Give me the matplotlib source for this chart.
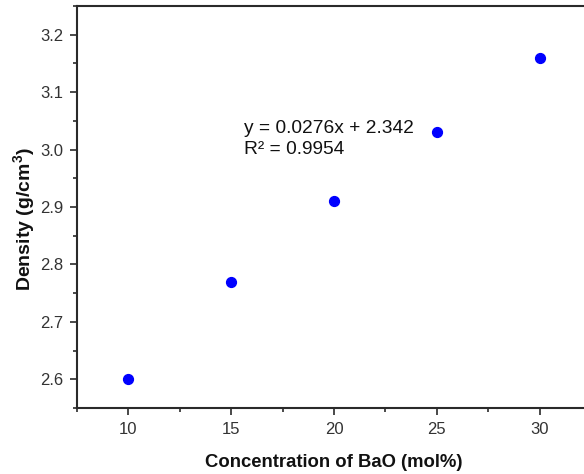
import numpy as np
import matplotlib
matplotlib.use("Agg")
import matplotlib.pyplot as plt
from matplotlib.ticker import MultipleLocator

plt.rcParams['font.family'] = ['Liberation Sans', 'DejaVu Sans']
plt.rcParams['mathtext.fontset'] = 'custom'
plt.rcParams['mathtext.rm'] = 'Liberation Sans'
plt.rcParams['mathtext.bf'] = 'Liberation Sans:bold'

# BaO content (mol%) and measured density (g/cm3)
bao = [10, 15, 20, 25, 30]
density = [2.60, 2.77, 2.91, 3.03, 3.16]
fit_text = "y = 0.0276x + 2.342\nR\u00b2 = 0.9954"

fig = plt.figure(figsize=(5.84, 4.74), dpi=100)
# axes runs past the right edge, as in the cropped original
ax = fig.add_axes([77 / 584, 1 - 408 / 474, 514 / 584, 402 / 474])

ax.scatter(bao, density, s=50, color='#0000ff', zorder=3)

ax.set_xlim(7.5, 32.5)
ax.set_ylim(2.55, 3.25)
ax.xaxis.set_major_locator(MultipleLocator(5))
ax.xaxis.set_minor_locator(MultipleLocator(2.5))
ax.yaxis.set_major_locator(MultipleLocator(0.1))
ax.yaxis.set_minor_locator(MultipleLocator(0.05))
ax.yaxis.set_major_formatter(matplotlib.ticker.FormatStrFormatter('%.1f'))

for s in ax.spines.values():
    s.set_linewidth(1.5)
    s.set_color('#2a2a2a')
ax.tick_params(which='major', direction='out', length=5, width=1.2,
               color='#2a2a2a', labelsize=12, labelcolor='#333333', pad=5)
ax.tick_params(which='minor', direction='out', length=3, width=1.2, color='#2a2a2a')

ax.set_xlabel('Concentration of BaO (mol%)', fontsize=13.3, fontweight='bold',
              labelpad=12, color='#111111')
ax.set_ylabel(r'Density (g/cm$^\mathbf{3}$)', fontsize=14, fontweight='bold',
              color='#111111')
ax.yaxis.set_label_coords(-0.075, 0.47)

ax.text(15.6, 3.051, fit_text, fontsize=13.8, va='top', ha='left',
        linespacing=1.3, color='#111111')

fig.savefig('out.png', dpi=100)
